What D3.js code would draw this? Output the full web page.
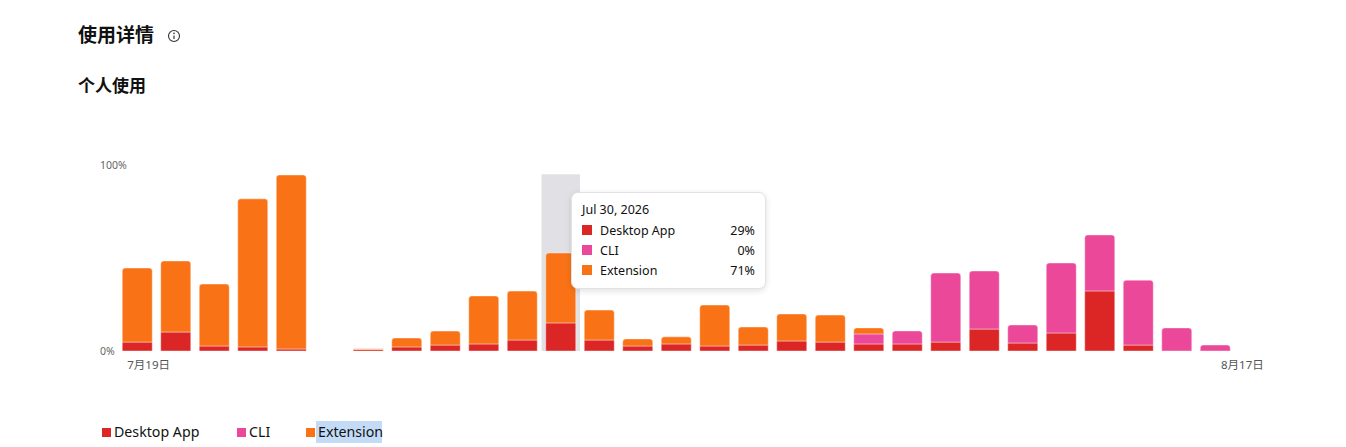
<!DOCTYPE html>
<html>
<head>
  <meta charset="utf-8">
  <title>使用详情</title>
  <style>
    html, body {
      margin: 0;
      padding: 0;
      background: #fff;
      font-family: "Noto Sans", "Noto Sans CJK SC", sans-serif;
    }
    #wrap {
      position: relative;
      width: 1346px;
      height: 447px;
    }
    .tooltip {
      position: absolute;
      left: 571px;
      top: 192px;
      width: 195px;
      height: 97px;
      box-sizing: border-box;
      background: #fff;
      border: 1px solid #e2e2e6;
      border-radius: 7px;
      box-shadow: 0 2px 6px rgba(0, 0, 0, 0.12);
      padding: 7px 10px 0 10px;
      font-size: 12.5px;
      color: #111;
    }
    .tooltip .date {
      height: 20px;
      line-height: 20px;
    }
    .tooltip .row {
      display: flex;
      align-items: center;
      height: 20px;
    }
    .tooltip .sw {
      width: 10px;
      height: 10px;
      margin-right: 8px;
    }
    .tooltip .val {
      margin-left: auto;
    }
  </style>
</head>
<body>
  <div id="wrap">
    <svg id="chart" width="1346" height="447"></svg>
  </div>

  <script src="https://d3js.org/d3.v7.min.js"></script>
  <script>
    // data: bar heights in % of the axis, one entry per day
    const days = d3.timeDays(new Date(2026, 6, 19), new Date(2026, 7, 18));
    const desktopApp = [4.8, 10.2, 2.7, 2.2, 1.1, 0, 0.8, 2.2, 3.2, 3.8, 5.9, 15.1, 5.9, 2.7, 3.8,
                        2.7, 3.2, 5.4, 4.8, 3.8, 3.8, 4.8, 11.8, 4.3, 9.7, 32.3, 3.2, 0, 0, 0];
    const cli        = [0, 0, 0, 0, 0, 0, 0, 0, 0, 0, 0, 0, 0, 0, 0,
                        0, 0, 0, 0, 5.4, 7.0, 37.1, 31.2, 9.7, 37.6, 30.1, 34.9, 12.4, 3.2, 0];
    const extension  = [39.8, 38.2, 33.3, 79.6, 93.5, 0, 0.4, 4.8, 7.5, 25.8, 26.3, 37.6, 16.1, 3.8, 3.8,
                        22.0, 9.7, 14.5, 14.5, 3.2, 0, 0, 0, 0, 0, 0, 0, 0, 0, 0];
    const seriesNames = ["Desktop App", "CLI", "Extension"];
    const seriesColors = ["#dc2626", "#ec4899", "#f97316"];
    const yTicks = [0, 100];
    const xTickDays = [0, 29];
    const hoverIndex = 11;

    const svg = d3.select("#chart");
    const margin = { left: 118, right: 73, top: 165, bottom: 96 };
    const width = 1346 - margin.left - margin.right;
    const height = 447 - margin.top - margin.bottom;

    const table = days.map((d, i) => ({
      date: d,
      "Desktop App": desktopApp[i],
      "CLI": cli[i],
      "Extension": extension[i]
    }));
    const stacked = d3.stack().keys(seriesNames)(table);

    const x = d3.scaleBand()
                .domain(days.map(d => +d))
                .range([margin.left, margin.left + width])
                .paddingInner(0.22)
                .paddingOuter(0.11);
    const y = d3.scaleLinear()
                .domain([0, 100])
                .range([margin.top + height, margin.top]);
    const color = d3.scaleOrdinal().domain(seriesNames).range(seriesColors);

    // headings
    svg.append("text")
       .attr("x", 78).attr("y", 42)
       .style("font-family", "'Noto Sans CJK SC', sans-serif")
       .style("font-size", "19px").style("font-weight", 700).style("fill", "#111")
       .text("使用详情");
    const info = svg.append("g").attr("transform", "translate(174,36)");
    info.append("circle").attr("r", 5.5).attr("fill", "none").attr("stroke", "#333").attr("stroke-width", 1.1);
    info.append("line").attr("x1", 0).attr("x2", 0).attr("y1", -0.5).attr("y2", 3).attr("stroke", "#333").attr("stroke-width", 1.2);
    info.append("circle").attr("cy", -2.6).attr("r", 0.8).attr("fill", "#333");

    svg.append("text")
       .attr("x", 78).attr("y", 92)
       .style("font-family", "'Noto Sans CJK SC', sans-serif")
       .style("font-size", "17px").style("font-weight", 700).style("fill", "#111")
       .text("个人使用");

    // hover band
    svg.append("rect")
       .attr("x", x(+days[hoverIndex]) - x.step() * 0.11)
       .attr("width", x.bandwidth() + x.step() * 0.22)
       .attr("y", y(95))
       .attr("height", y(0) - y(95))
       .attr("fill", "#e1e1e5");

    // y axis labels
    svg.selectAll(".ylab")
       .data(yTicks)
       .enter()
       .append("text")
       .attr("class", "ylab")
       .attr("x", 100)
       .attr("y", d => y(d))
       .attr("dy", "0.35em")
       .style("font-size", "10.5px")
       .style("fill", "#666")
       .text(d => d + "%");

    // bars, top segment gets rounded corners
    function topIndex(i) {
      let top = -1;
      stacked.forEach((s, k) => { if (s[i][1] - s[i][0] > 0) top = k; });
      return top;
    }
    function segPath(x0, w, y0, y1, round) {
      const h = y1 - y0;
      const r = round ? Math.min(3, h / 2, w / 2) : 0;
      return `M${x0},${y1} L${x0},${y0 + r} Q${x0},${y0} ${x0 + r},${y0} L${x0 + w - r},${y0} Q${x0 + w},${y0} ${x0 + w},${y0 + r} L${x0 + w},${y1} Z`;
    }

    svg.append("g")
       .selectAll("g")
       .data(stacked)
       .enter()
       .append("g")
       .attr("fill", d => color(d.key))
       .each(function (s, k) {
         d3.select(this)
           .selectAll("path")
           .data(s.filter(p => p[1] - p[0] > 0))
           .enter()
           .append("path")
           .attr("stroke", "#fff")
           .attr("stroke-opacity", 0.4)
           .attr("stroke-width", 1)
           .attr("d", p => {
             const i = days.findIndex(d => +d === +p.data.date);
             return segPath(x(+p.data.date), x.bandwidth(), y(p[1]), y(p[0]), topIndex(i) === k);
           });
       });

    // x axis labels (first one anchored left, last one right)
    svg.selectAll(".xlab")
       .data(xTickDays)
       .enter()
       .append("text")
       .attr("class", "xlab")
       .attr("x", (d, i) => i === 0 ? x(+days[d]) + 5 : x(+days[d]) + x.bandwidth() - 5)
       .attr("y", y(0) + 14)
       .attr("dy", "0.35em")
       .attr("text-anchor", (d, i) => i === 0 ? "start" : "end")
       .style("font-size", "11.5px")
       .style("fill", "#555")
       .text(d => d3.timeFormat("%-m月%-d日")(days[d]));

    // legend
    const legendX = [102, 237, 306];
    const legend = svg.append("g");
    const items = legend.selectAll("g")
                        .data(seriesNames)
                        .enter()
                        .append("g")
                        .attr("transform", (d, i) => `translate(${legendX[i]}, 432)`);
    items.filter(d => d === "Extension")
         .append("rect")
         .attr("x", 10).attr("y", -11).attr("width", 66).attr("height", 22)
         .attr("fill", "#c3dbf7");
    items.append("rect")
         .attr("x", 0).attr("y", -4).attr("width", 9).attr("height", 9)
         .attr("fill", d => color(d));
    items.append("text")
         .attr("x", 12).attr("y", 0).attr("dy", "0.35em")
         .style("font-size", "14.2px").style("fill", "#111")
         .text(d => d);

    // tooltip for the hovered day
    const row = table[hoverIndex];
    const total = seriesNames.reduce((a, k) => a + row[k], 0);
    const tip = d3.select("#wrap").append("div").attr("class", "tooltip");
    tip.append("div").attr("class", "date").text(d3.timeFormat("%b %-d, %Y")(row.date));
    const rows = tip.selectAll(".row")
                    .data(seriesNames)
                    .enter()
                    .append("div")
                    .attr("class", "row");
    rows.append("span").attr("class", "sw").style("background", d => color(d));
    rows.append("span").text(d => d);
    rows.append("span").attr("class", "val").text(d => Math.round(row[d] / total * 100) + "%");
  </script>
</body>
</html>
